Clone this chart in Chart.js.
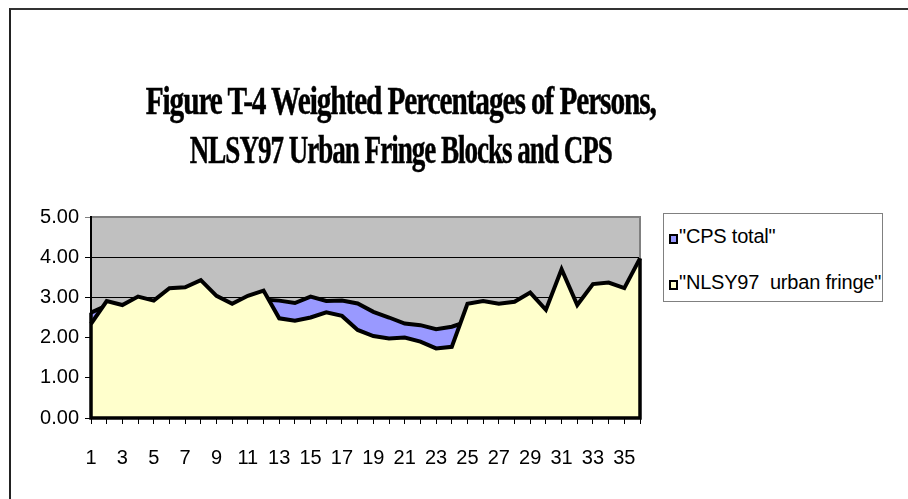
<!DOCTYPE html>
<html lang="en">
<head>
  <meta charset="UTF-8" />
  <title>Figure T-4 Weighted Percentages of Persons</title>
  <script src="https://cdn.jsdelivr.net/npm/chart.js"></script>
  <style>
    * { box-sizing: border-box; }
    html, body {
      margin: 0;
      padding: 0;
      width: 908px;
      height: 499px;
      overflow: hidden;
      background: #ffffff;
    }
    .frame {
      position: absolute;
      left: 9px;
      top: 8px;
      width: 1200px;
      height: 800px;
      border-left: 2px solid #222;
      border-top: 2px solid #333;
    }
    #chart {
      position: absolute;
      left: 0;
      top: 0;
    }
    .title-line {
      position: absolute;
      left: 0;
      width: 802px;
      text-align: center;
      font-family: 'Liberation Serif', 'Times New Roman', serif;
      font-weight: bold;
      font-size: 40px;
      line-height: 40px;
      letter-spacing: -1.5px;
      -webkit-text-stroke: 0.5px #000;
      color: #000;
      white-space: nowrap;
    }
    .title-line span {
      display: inline-block;
      transform-origin: center;
    }
    .legend {
      position: absolute;
      left: 663px;
      top: 213px;
      width: 220px;
      height: 89px;
      border: 1px solid #808080;
      background: #fff;
    }
    .legend .item {
      position: absolute;
      left: 5px;
      height: 24px;
      font-family: 'Liberation Sans', Arial, sans-serif;
      font-size: 20px;
      line-height: 24px;
      letter-spacing: -0.2px;
      color: #000;
      white-space: pre;
    }
    .legend .box {
      display: inline-block;
      width: 9px;
      height: 10px;
      border: 2px solid #000;
      margin-right: 1px;
      vertical-align: -1px;
    }
  </style>
</head>
<body>
  <div class="frame"></div>
  <canvas id="chart" width="908" height="499"></canvas>

  <div class="title-line" style="top:81px"><span data-w="510">Figure T-4 Weighted Percentages of Persons,</span></div>
  <div class="title-line" style="top:130px"><span data-w="422">NLSY97 Urban Fringe Blocks and CPS</span></div>

  <div class="legend" id="legenda"></div>

  <script>
    // categorias (1..36)
    const categorias = ['1','2','3','4','5','6','7','8','9','10','11','12','13','14','15','16','17','18',
      '19','20','21','22','23','24','25','26','27','28','29','30','31','32','33','34','35','36'];

    const nomesSeries = ['"CPS total"', '"NLSY97  urban fringe"'];

    const cpsTotal = [2.62, 2.80, 2.75, 2.90, 2.85, 2.95, 2.95, 3.00, 2.95, 2.78, 2.92, 2.95,
      2.92, 2.86, 3.02, 2.91, 2.92, 2.85, 2.64, 2.50, 2.35, 2.31, 2.21, 2.27,
      2.40, 2.45, 2.50, 2.55, 2.60, 2.60, 2.65, 2.70, 2.75, 2.80, 2.85, 2.90];

    const nlsyUrbanFringe = [2.34, 2.91, 2.81, 3.02, 2.92, 3.23, 3.25, 3.43, 3.04, 2.84, 3.04, 3.17,
      2.48, 2.42, 2.50, 2.63, 2.54, 2.19, 2.04, 1.98, 2.00, 1.90, 1.73, 1.77,
      2.84, 2.91, 2.84, 2.89, 3.12, 2.69, 3.70, 2.81, 3.33, 3.37, 3.23, 3.97];

    const ticksY = [0, 1, 2, 3, 4, 5];

    const coresSeries = ['#9999FF', '#FFFFCC'];

    // titulo comprimido como no original
    document.querySelectorAll('.title-line span').forEach(function (s) {
      const alvo = parseFloat(s.dataset.w);
      const larg = s.getBoundingClientRect().width;
      s.style.transform = 'scaleX(' + (alvo / larg).toFixed(4) + ')';
    });

    // legenda
    const legenda = document.getElementById('legenda');
    nomesSeries.forEach(function (nome, i) {
      const item = document.createElement('div');
      item.className = 'item';
      item.style.top = (10 + i * 46) + 'px';
      item.innerHTML = '<span class="box" style="background:' + coresSeries[i] + '"></span>';
      item.appendChild(document.createTextNode(nome));
      legenda.appendChild(item);
    });

    // fundo cinza da area de plotagem
    const fundoPlot = {
      id: 'fundoPlot',
      beforeDraw(chart) {
        const a = chart.chartArea;
        const ctx = chart.ctx;
        ctx.save();
        ctx.fillStyle = '#C0C0C0';
        ctx.fillRect(a.left, a.top, a.right - a.left, a.bottom - a.top);
        ctx.restore();
      },
      beforeDatasetsDraw(chart) {
        const a = chart.chartArea;
        const ctx = chart.ctx;
        ctx.save();
        ctx.strokeStyle = '#808080';
        ctx.lineWidth = 2;
        ctx.beginPath();
        ctx.moveTo(a.left, a.top);
        ctx.lineTo(a.right, a.top);
        ctx.lineTo(a.right, a.bottom);
        ctx.stroke();
        ctx.restore();
      },
      afterDatasetsDraw(chart) {
        // bordas verticais e base da area da frente
        const a = chart.chartArea;
        const ctx = chart.ctx;
        const y = chart.scales.y;
        const ult = nlsyUrbanFringe.length - 1;
        ctx.save();
        ctx.strokeStyle = '#000';
        ctx.lineWidth = 3.5;
        ctx.beginPath();
        ctx.moveTo(a.left, y.getPixelForValue(cpsTotal[0]));
        ctx.lineTo(a.left, a.bottom);
        ctx.lineTo(a.right, a.bottom);
        ctx.lineTo(a.right, y.getPixelForValue(nlsyUrbanFringe[ult]));
        ctx.stroke();
        ctx.restore();
      }
    };

    new Chart(document.getElementById('chart').getContext('2d'), {
      type: 'line',
      data: {
        labels: categorias,
        datasets: [
          {
            label: nomesSeries[0],
            data: cpsTotal,
            backgroundColor: coresSeries[0],
            borderColor: '#000',
            borderWidth: 4,
            fill: 'origin',
            pointRadius: 0,
            tension: 0,
            order: 1
          },
          {
            label: nomesSeries[1],
            data: nlsyUrbanFringe,
            backgroundColor: coresSeries[1],
            borderColor: '#000',
            borderWidth: 4,
            fill: 'origin',
            pointRadius: 0,
            tension: 0,
            order: 0
          }
        ]
      },
      options: {
        responsive: false,
        animation: false,
        layout: { padding: { left: 20, top: 217, right: 268, bottom: 0 } },
        plugins: {
          legend: { display: false },
          title: { display: false },
          tooltip: { enabled: false }
        },
        scales: {
          x: {
            offset: false,
            afterFit(scale) { scale.height = 81; },
            grid: {
              drawOnChartArea: false,
              drawTicks: true,
              tickLength: 6,
              color: '#000',
              lineWidth: 1
            },
            border: { display: true, color: '#000', width: 2, z: 1 },
            ticks: {
              autoSkip: false,
              maxRotation: 0,
              padding: 22,
              color: '#000',
              font: { family: "'Liberation Sans', Arial, sans-serif", size: 20 },
              callback: function (v, i) { return i % 2 === 0 ? categorias[i] : ''; }
            }
          },
          y: {
            min: ticksY[0],
            max: ticksY[ticksY.length - 1],
            afterFit(scale) { scale.width = 71; },
            grid: {
              color: function (c) { return c.tick && c.tick.value === 5 ? '#808080' : '#000'; },
              lineWidth: 1,
              tickLength: 6
            },
            border: { display: true, color: '#000', width: 2, z: 1 },
            ticks: {
              stepSize: 1,
              padding: 6,
              color: '#000',
              font: { family: "'Liberation Sans', Arial, sans-serif", size: 20 },
              callback: function (v) { return Number(v).toFixed(2); }
            }
          }
        }
      },
      plugins: [fundoPlot]
    });
  </script>
</body>
</html>
